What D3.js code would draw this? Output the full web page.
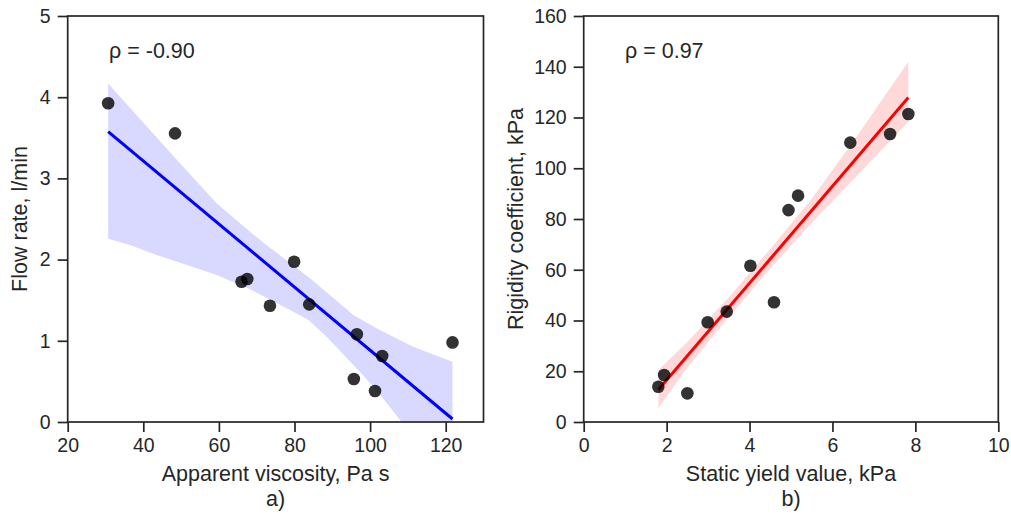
<!DOCTYPE html>
<html><head><meta charset="utf-8">
<script src="https://cdn.jsdelivr.net/npm/d3@7"></script>
<style>
html,body{margin:0;padding:0;background:#fff;}
svg text{font-family:"Liberation Sans",Arial,sans-serif;fill:#262626;}
</style></head>
<body><svg id="c" width="1011" height="516"></svg>
<script>
// ---- Panel a) data ----
const viscosity = [30.7, 48.4, 66.0, 67.5, 73.5, 79.9, 83.9, 96.5, 95.7, 103.2, 101.3, 121.8];
const flowRate  = [3.925, 3.555, 1.728, 1.761, 1.432, 1.974, 1.449, 1.080, 0.53, 0.813, 0.382, 0.98];
const bandA_upX = [30.7, 49.7, 59.4, 68.7, 72.6, 84.1, 95.6, 101.7, 111.4, 121.8];
const bandA_up  = [4.17, 3.186, 2.693, 2.324, 2.18, 1.77, 1.318, 1.154, 0.927, 0.743];
const bandA_loX = [30.7, 36.5, 43.5, 51.5, 59.4, 68.7, 78.8, 83.7, 88.5, 95.6, 101.7, 107.9, 121.8];
const bandA_lo  = [2.258, 2.18, 2.057, 1.933, 1.81, 1.626, 1.379, 1.256, 1.051, 0.702, 0.394, 0.025, -0.85];
const xTicksA = [20, 40, 60, 80, 100, 120];
const yTicksA = [0, 1, 2, 3, 4, 5];
// ---- Panel b) data ----
const yieldValue = [1.80, 1.94, 2.50, 2.99, 3.45, 4.02, 4.59, 4.94, 5.17, 6.43, 7.39, 7.83];
const rigidity   = [13.9, 18.5, 11.3, 39.3, 43.5, 61.6, 47.2, 83.5, 89.2, 110.1, 113.5, 121.4];
const bandB_X  = [1.80, 2.5, 3.5, 4.5, 5.5, 6.5, 7.83];
const bandB_up = [20.5, 31.5, 49.2, 68.2, 88.0, 110.5, 142.0];
const bandB_lo = [5.4, 21.5, 41.4, 60.5, 78.5, 95.5, 118.3];
const xTicksB = [0, 2, 4, 6, 8, 10];
const yTicksB = [0, 20, 40, 60, 80, 100, 120, 140, 160];

const svg = d3.select("#c");
const FONT = '"Liberation Sans",Arial,sans-serif';

function ols(xs, ys){
  const n = xs.length, mx = d3.mean(xs), my = d3.mean(ys);
  let sxy = 0, sxx = 0;
  for (let i=0;i<n;i++){ sxy += (xs[i]-mx)*(ys[i]-my); sxx += (xs[i]-mx)**2; }
  const b = sxy/sxx; return {a: my - b*mx, b};
}

function panel(o){
  const g = svg.append("g");
  const x = d3.scaleLinear().domain(o.xDom).range([o.x0, o.x1]);
  const y = d3.scaleLinear().domain(o.yDom).range([o.y1, o.y0]);
  const clipId = "clip" + o.id;
  svg.append("defs").append("clipPath").attr("id", clipId)
    .append("rect").attr("x", o.x0).attr("y", o.y0).attr("width", o.x1-o.x0).attr("height", o.y1-o.y0);
  const plot = g.append("g").attr("clip-path", `url(#${clipId})`);
  const pts = o.upX.map((v,i)=>[x(v), y(o.up[i])])
    .concat(o.loX.map((v,i)=>[x(v), y(o.lo[i])]).reverse());
  plot.append("path").attr("d", "M" + pts.map(p=>p.join(",")).join("L") + "Z")
    .attr("fill", o.band).attr("fill-opacity", 0.15).attr("stroke", "none");
  const fit = ols(o.xs, o.ys);
  const ext = d3.extent(o.xs);
  plot.append("line")
    .attr("x1", x(ext[0])).attr("y1", y(fit.a + fit.b*ext[0]))
    .attr("x2", x(ext[1])).attr("y2", y(fit.a + fit.b*ext[1]))
    .attr("stroke", o.band).attr("stroke-width", 3);
  plot.selectAll("circle").data(o.xs).join("circle")
    .attr("cx", (d)=>x(d)).attr("cy", (d,i)=>y(o.ys[i])).attr("r", 6.3)
    .attr("fill", "#000").attr("fill-opacity", 0.8);
  const ax = g.append("g").attr("transform", `translate(0,${o.y1})`)
    .call(d3.axisBottom(x).tickValues(o.xTicks).tickSize(10).tickPadding(6).tickFormat(d3.format("d")));
  const ay = g.append("g").attr("transform", `translate(${o.x0},0)`)
    .call(d3.axisLeft(y).tickValues(o.yTicks).tickSize(10).tickPadding(7).tickFormat(d3.format("d")));
  [ax, ay].forEach(a=>{
    a.select(".domain").remove();
    a.selectAll(".tick line").attr("stroke", "#262626").attr("stroke-width", 1.7);
    a.selectAll(".tick text").attr("font-size", 19.5).attr("fill", "#262626").style("font-family", FONT);
  });
  g.append("rect").attr("x", o.x0).attr("y", o.y0).attr("width", o.x1-o.x0).attr("height", o.y1-o.y0)
    .attr("fill", "none").attr("stroke", "#262626").attr("stroke-width", 1.7);
  const cx = (o.x0+o.x1)/2;
  g.append("text").attr("x", cx).attr("y", 481).attr("text-anchor", "middle").attr("font-size", 21.5).text(o.xLabel);
  g.append("text").attr("x", cx).attr("y", 506).attr("text-anchor", "middle").attr("font-size", 21.5).text(o.sub);
  g.append("text").attr("transform", `translate(${o.yLabX},${(o.y0+o.y1)/2}) rotate(-90)`)
    .attr("text-anchor", "middle").attr("font-size", 21.5).text(o.yLabel);
  g.append("text").attr("x", o.rhoX).attr("y", 58).attr("font-size", 21.5).text(o.rho);
}

panel({id:"a", x0:67.7, x1:483.5, y0:16, y1:422, xDom:[20,130], yDom:[0,5],
  xs: viscosity, ys: flowRate, upX: bandA_upX, up: bandA_up, loX: bandA_loX, lo: bandA_lo,
  band:"#0000ff", xTicks: xTicksA, yTicks: yTicksA,
  xLabel:"Apparent viscosity, Pa s", sub:"a)", yLabel:"Flow rate, l/min", yLabX:27,
  rho:"ρ = -0.90", rhoX:109});
panel({id:"b", x0:583.7, x1:998.3, y0:16, y1:422, xDom:[0,10], yDom:[0,160],
  xs: yieldValue, ys: rigidity, upX: bandB_X, up: bandB_up, loX: bandB_X, lo: bandB_lo,
  band:"#ff0000", xTicks: xTicksB, yTicks: yTicksB,
  xLabel:"Static yield value, kPa", sub:"b)", yLabel:"Rigidity coefficient, kPa", yLabX:523,
  rho:"ρ = 0.97", rhoX:625});
</script></body></html>
